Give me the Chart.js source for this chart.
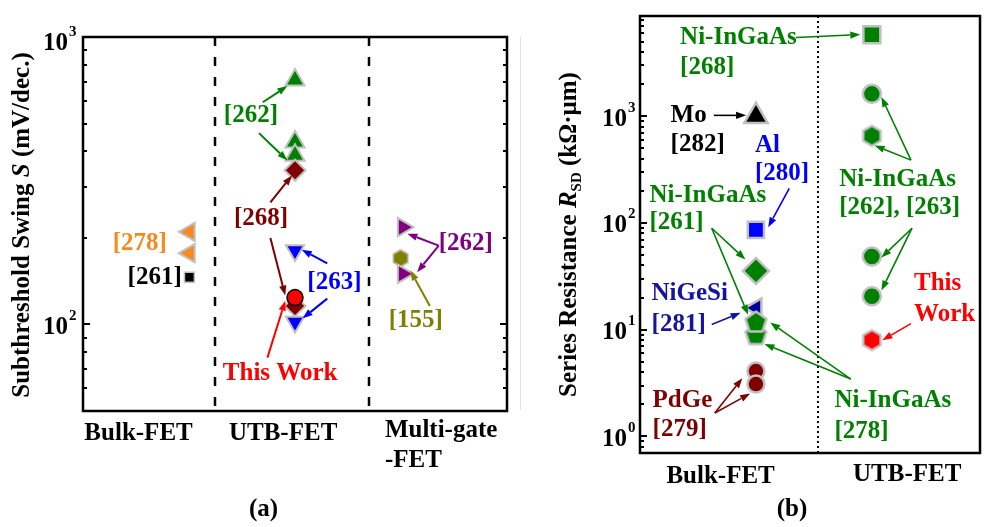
<!DOCTYPE html>
<html>
<head>
<meta charset="utf-8">
<script src="https://cdn.jsdelivr.net/npm/chart.js@4.4.1/dist/chart.umd.min.js"></script>
<style>
  html, body { margin: 0; padding: 0; background: #fff; overflow: hidden; width: 993px; height: 527px; }
  #wrapA { position: absolute; left: 0; top: 0; width: 520px; height: 527px; }
  #wrapB { position: absolute; left: 520px; top: 0; width: 476px; height: 527px; }
  #edge { position: absolute; left: 520px; top: 37px; width: 1px; height: 373px; background: #e4e4e4; }
</style>
</head>
<body>
<div id="wrapA"><canvas id="chartA" width="520" height="527"></canvas></div>
<div id="wrapB"><canvas id="chartB" width="476" height="527"></canvas></div>
<div id="edge"></div>
<script>
// ---------- data: (a) subthreshold swing S, mV/dec. ----------
const categoriesA = ['Bulk-FET', 'UTB-FET', 'Multi-gate\n-FET'];
const yTickLabelsA = [100, 1000];
const swingBulk278 = [210, 177];
const swingBulk261 = [146];
const swingUtb262 = [708, 431, 388];
const swingUtb268 = [344, 116];
const swingUtb263 = [181, 102];
const swingThisWork = [124];
const swingMg262 = [218, 150];
const swingMg155 = [170];

// ---------- data: (b) series resistance R_SD, kOhm.um ----------
const categoriesB = ['Bulk-FET', 'UTB-FET'];
const yTickLabelsB = [1, 10, 100, 1000];
const rsdBulkMo282 = [1000];
const rsdBulkAl280 = [86];
const rsdBulk261 = [35.5];
const rsdBulk281 = [16];
const rsdBulk278 = [8.9, 11.7];
const rsdBulk279 = [4.1, 3.1];
const rsdUtb268 = [5800];
const rsdUtbCircle = [1620, 48.6, 20.6];
const rsdUtbHex = [656];
const rsdThisWork = [8.0];

// ---------- styling ----------
const SERIF = '"Liberation Serif", "Times New Roman", serif';
const BOLD = 'bold 25px ' + SERIF;
const BOLD_IT = 'italic bold 25px ' + SERIF;
const SMALL = 'bold 15px ' + SERIF;
const GREEN = '#008000', DARKRED = '#800000', BLUE = '#0000ff', NAVY = '#1414a0',
      ORANGE = '#f7891f', PURPLE = '#800080', OLIVE = '#808000', RED = '#ff0000',
      BLACK = '#000000', EDGE = '#c0c0c0';

// horizontal slots on a 0..10 axis
const slotA = { bulk: 2.51, utb: 5.0, multi: 7.55 };
const slotB = { bulk: 3.41, utb: 6.82 };

const pts = (x, vals) => vals.map(v => ({ x, y: v }));

function polygonStyle(sides, r, fill, stroke, lw) {
  const size = Math.ceil(2 * (r + lw) + 2);
  const c = document.createElement('canvas');
  c.width = size; c.height = size;
  const g = c.getContext('2d');
  g.translate(size / 2, size / 2);
  g.beginPath();
  for (let i = 0; i < sides; i++) {
    const a = -Math.PI / 2 + i * 2 * Math.PI / sides;
    const px = r * Math.cos(a), py = r * Math.sin(a);
    if (i) g.lineTo(px, py); else g.moveTo(px, py);
  }
  g.closePath();
  g.fillStyle = fill; g.fill();
  g.lineJoin = 'round'; g.lineWidth = lw; g.strokeStyle = stroke; g.stroke();
  return c;
}

function series(data, style, color, radius, opts = {}) {
  return Object.assign({
    data, pointStyle: style, pointRadius: radius, pointHoverRadius: radius,
    pointRotation: 0, backgroundColor: color, borderColor: EDGE, borderWidth: 2,
    showLine: false
  }, opts);
}

function drawArrow(ctx, x1, y1, x2, y2, color, lw, hl, hw) {
  const ang = Math.atan2(y2 - y1, x2 - x1);
  const bx = x2 - hl * Math.cos(ang), by = y2 - hl * Math.sin(ang);
  ctx.strokeStyle = color; ctx.fillStyle = color; ctx.lineWidth = lw; ctx.setLineDash([]);
  ctx.beginPath(); ctx.moveTo(x1, y1); ctx.lineTo(bx, by); ctx.stroke();
  ctx.beginPath(); ctx.moveTo(x2, y2);
  ctx.lineTo(bx + hw * Math.sin(ang), by - hw * Math.cos(ang));
  ctx.lineTo(bx - hw * Math.sin(ang), by + hw * Math.cos(ang));
  ctx.closePath(); ctx.fill();
}

function drawRotatedRich(ctx, segs, bx, cy) {
  ctx.save();
  ctx.translate(bx, cy);
  ctx.rotate(-Math.PI / 2);
  ctx.textBaseline = 'alphabetic'; ctx.textAlign = 'left'; ctx.fillStyle = BLACK;
  let total = 0;
  segs.forEach(s => { ctx.font = s.font; total += ctx.measureText(s.t).width; });
  let x = -total / 2;
  segs.forEach(s => { ctx.font = s.font; ctx.fillText(s.t, x, s.dy || 0); x += ctx.measureText(s.t).width; });
  ctx.restore();
}

// frame, log ticks, labels, dividers, callouts
function decor(spec) {
  return {
    id: 'decor',
    beforeDatasetsDraw(chart) {
      const { ctx, chartArea: a, scales: { x } } = chart;
      ctx.save();
      ctx.strokeStyle = BLACK; ctx.lineWidth = spec.divider.width; ctx.setLineDash(spec.divider.dash);
      spec.divider.at.forEach(v => {
        const px = Math.round(x.getPixelForValue(v));
        ctx.beginPath(); ctx.moveTo(px, a.top); ctx.lineTo(px, a.bottom); ctx.stroke();
      });
      ctx.restore();
    },
    afterDatasetsDraw(chart) {
      const { ctx, chartArea: a, scales: { x, y } } = chart;
      ctx.save();
      // box
      ctx.strokeStyle = BLACK; ctx.lineWidth = 2.5; ctx.setLineDash([]);
      ctx.strokeRect(a.left, a.top, a.right - a.left, a.bottom - a.top);
      // inward log ticks
      ctx.lineWidth = 2;
      const lo = Math.floor(Math.log10(y.min)), hi = Math.ceil(Math.log10(y.max));
      for (let d = lo; d <= hi; d++) {
        for (let k = 1; k <= 9; k++) {
          const v = k * Math.pow(10, d);
          if (v < y.min * 0.999 || v > y.max * 1.001) continue;
          const py = Math.round(y.getPixelForValue(v));
          const len = k === 1 ? 7 : 4;
          ctx.beginPath(); ctx.moveTo(a.left, py); ctx.lineTo(a.left + len, py); ctx.stroke();
          if (spec.rightTicks) { ctx.beginPath(); ctx.moveTo(a.right, py); ctx.lineTo(a.right - len, py); ctx.stroke(); }
        }
      }
      // tick labels 10^n
      ctx.fillStyle = BLACK; ctx.textBaseline = 'middle';
      spec.tickLabels.forEach(v => {
        const e = Math.round(Math.log10(v));
        let py = y.getPixelForValue(v);
        if (py - a.top < 3) py += spec.topShift;
        const rx = a.left - spec.labelGap;
        ctx.font = BOLD; ctx.textAlign = 'right'; ctx.fillText('10', rx, py + 3);
        ctx.font = SMALL; ctx.textAlign = 'left'; ctx.fillText(String(e), rx + 1, py - 8.5);
      });
      // category labels
      ctx.font = BOLD; ctx.textBaseline = 'alphabetic';
      spec.categories.forEach((c, i) => {
        const lines = c.split('\n');
        const m = spec.catLayout[i];
        ctx.textAlign = m.align;
        lines.forEach((ln, j) => ctx.fillText(ln, x.getPixelForValue(m.x), a.bottom + m.dy + j * 30));
      });
      // panel letter
      ctx.textAlign = 'center';
      ctx.fillText(spec.panel.t, x.getPixelForValue(spec.panel.x), spec.panel.baseline);
      // callout arrows
      spec.arrows.forEach(ar => {
        drawArrow(ctx, x.getPixelForValue(ar.from[0]), y.getPixelForValue(ar.from[1]),
          x.getPixelForValue(ar.to[0]), y.getPixelForValue(ar.to[1]), ar.color, spec.arrowWidth, 10, 3.6);
      });
      // callout text
      ctx.textBaseline = 'middle'; ctx.font = BOLD;
      spec.notes.forEach(n => {
        ctx.fillStyle = n.color; ctx.textAlign = n.align || spec.noteAlign;
        ctx.fillText(n.t, x.getPixelForValue(n.x), y.getPixelForValue(n.y));
      });
      // axis title
      drawRotatedRich(ctx, spec.title.segs, spec.title.bx, (a.top + a.bottom) / 2 + spec.title.dy);
      ctx.restore();
    }
  };
}

function baseOptions(yMin, yMax, padding) {
  return {
    responsive: false, animation: false, events: [],
    layout: { padding },
    plugins: { legend: { display: false }, tooltip: { enabled: false } },
    scales: {
      x: { type: 'linear', min: 0, max: 10, display: false },
      y: { type: 'logarithmic', min: yMin, max: yMax, display: false }
    }
  };
}

// ---------- (a) ----------
const hexOlive = polygonStyle(6, 8.5, OLIVE, EDGE, 1.5);
new Chart(document.getElementById('chartA'), {
  type: 'scatter',
  data: {
    // first dataset is painted on top
    datasets: [
      series(pts(slotA.utb, swingThisWork), 'circle', RED, 8, { borderColor: BLACK, borderWidth: 1.5 }),
      series(pts(slotA.utb, swingUtb268), 'rectRot', DARKRED, 10.5),
      series(pts(slotA.utb, swingUtb262), 'triangle', GREEN, 11),
      series(pts(slotA.utb, swingUtb263), 'triangle', BLUE, 10.5, { pointRotation: 180 }),
      series(pts(slotA.bulk, swingBulk278), 'triangle', ORANGE, 10.5, { pointRotation: -90 }),
      series(pts(slotA.bulk, swingBulk261), 'rect', BLACK, 7, { borderWidth: 1.5 }),
      series(pts(slotA.multi, swingMg262), 'triangle', PURPLE, 10.5, { pointRotation: 90 }),
      series(pts(slotA.multi - 0.06, swingMg155), hexOlive, OLIVE, 8)
    ]
  },
  options: baseOptions(50, 1000, { left: 83, top: 37, right: 3, bottom: 116 }),
  plugins: [decor({
    divider: { at: [3.11, 6.75], dash: [9, 11], width: 2.5 },
    rightTicks: true,
    tickLabels: yTickLabelsA, labelGap: 15, topShift: 4,
    categories: categoriesA,
    catLayout: [{ x: 1.31, align: 'center', dy: 29 }, { x: 4.72, align: 'center', dy: 29 }, { x: 7.12, align: 'left', dy: 26 }],
    panel: { t: '(a)', x: 4.26, baseline: 516 },
    arrowWidth: 2,
    noteAlign: 'center',
    notes: [
      { t: '[278]', x: 1.34, y: 191, color: ORANGE },
      { t: '[261]', x: 1.69, y: 146, color: BLACK },
      { t: '[262]', x: 3.96, y: 535, color: GREEN },
      { t: '[268]', x: 4.20, y: 234, color: DARKRED },
      { t: 'This Work', x: 4.65, y: 67.5, color: RED },
      { t: '[263]', x: 5.93, y: 140, color: BLUE },
      { t: '[262]', x: 9.03, y: 191, color: PURPLE },
      { t: '[155]', x: 7.85, y: 103, color: OLIVE }
    ],
    arrows: [
      { from: [4.24, 593], to: [4.82, 675], color: GREEN },
      { from: [4.15, 463], to: [4.82, 372], color: GREEN },
      { from: [4.42, 266], to: [4.93, 330], color: DARKRED },
      { from: [4.42, 200], to: [4.77, 126], color: DARKRED },
      { from: [4.35, 76.7], to: [4.77, 121], color: RED },
      { from: [5.76, 163], to: [5.16, 182], color: BLUE },
      { from: [5.76, 123], to: [5.18, 105], color: BLUE },
      { from: [8.39, 188], to: [7.65, 207], color: PURPLE },
      { from: [8.39, 188], to: [7.88, 152], color: PURPLE },
      { from: [8.18, 116], to: [7.72, 154], color: OLIVE }
    ],
    title: {
      bx: 29, dy: 1,
      segs: [
        { t: 'Subthreshold Swing ', font: BOLD },
        { t: 'S', font: BOLD_IT },
        { t: ' (mV/dec.)', font: BOLD }
      ]
    }
  })]
});

// ---------- (b) ----------
const hexGreen = polygonStyle(6, 10, GREEN, EDGE, 2.5);
const hexRed = polygonStyle(6, 10, RED, EDGE, 2.5);
const pentGreen = polygonStyle(5, 11, GREEN, EDGE, 2.5);
new Chart(document.getElementById('chartB'), {
  type: 'scatter',
  data: {
    datasets: [
      series(pts(slotB.utb, rsdUtb268), 'rect', GREEN, 12, { borderWidth: 2.5 }),
      series(pts(slotB.utb, rsdUtbCircle), 'circle', GREEN, 9, { borderWidth: 2.5 }),
      series(pts(slotB.utb, rsdUtbHex), hexGreen, GREEN, 10),
      series(pts(slotB.utb, rsdThisWork), hexRed, RED, 10),
      series(pts(slotB.bulk, rsdBulkMo282), 'triangle', BLACK, 13.5, { borderWidth: 2.5 }),
      series(pts(slotB.bulk, rsdBulkAl280), 'rect', BLUE, 11.5, { borderWidth: 2.5 }),
      series(pts(slotB.bulk, rsdBulk261), 'rectRot', GREEN, 13, { borderWidth: 2.5 }),
      series(pts(slotB.bulk, rsdBulk278), pentGreen, GREEN, 11),
      series(pts(slotB.bulk, rsdBulk281), 'triangle', '#0000a0', 11, { pointRotation: -90, borderWidth: 2.5 }),
      series(pts(slotB.bulk, rsdBulk279), 'circle', DARKRED, 8.5, { borderWidth: 2.5 })
    ]
  },
  options: baseOptions(0.715, 8690, { left: 120, top: 5, right: 1, bottom: 74 }),
  plugins: [decor({
    divider: { at: [5.24], dash: [2, 3], width: 2 },
    rightTicks: false,
    tickLabels: yTickLabelsB, labelGap: 13, topShift: 0,
    categories: categoriesB,
    catLayout: [{ x: 2.37, align: 'center', dy: 30 }, { x: 7.86, align: 'center', dy: 28 }],
    panel: { t: '(b)', x: 4.47, baseline: 516 },
    arrowWidth: 1.6,
    noteAlign: 'left',
    notes: [
      { t: 'Ni-InGaAs', x: 1.18, y: 5460, color: GREEN },
      { t: '[268]', x: 1.18, y: 2850, color: GREEN },
      { t: 'Mo', x: 0.90, y: 1019, color: BLACK },
      { t: '[282]', x: 0.90, y: 543, color: BLACK },
      { t: 'Al', x: 3.38, y: 532, color: BLUE },
      { t: '[280]', x: 3.38, y: 289, color: BLUE },
      { t: 'Ni-InGaAs', x: 0.28, y: 179, color: GREEN },
      { t: '[261]', x: 0.28, y: 101, color: GREEN },
      { t: 'NiGeSi', x: 0.34, y: 21.9, color: NAVY },
      { t: '[281]', x: 0.34, y: 11.2, color: NAVY },
      { t: 'PdGe', x: 0.37, y: 2.17, color: DARKRED },
      { t: '[279]', x: 0.37, y: 1.16, color: DARKRED },
      { t: 'Ni-InGaAs', x: 5.86, y: 255, color: GREEN },
      { t: '[262], [263]', x: 5.86, y: 139, color: GREEN },
      { t: 'This', x: 8.06, y: 27.0, color: RED },
      { t: 'Work', x: 8.06, y: 13.8, color: RED },
      { t: 'Ni-InGaAs', x: 5.72, y: 2.17, color: GREEN },
      { t: '[278]', x: 5.72, y: 1.11, color: GREEN }
    ],
    arrows: [
      { from: [4.59, 5460], to: [6.48, 5820], color: GREEN },
      { from: [2.17, 1019], to: [3.12, 1019], color: BLACK },
      { from: [4.39, 211], to: [3.77, 91.2], color: BLUE },
      { from: [2.11, 89.3], to: [3.10, 45.6], color: GREEN },
      { from: [2.11, 89.3], to: [3.18, 13.8], color: GREEN },
      { from: [2.11, 11.2], to: [2.96, 14.4], color: NAVY },
      { from: [2.20, 1.66], to: [3.01, 3.52], color: DARKRED },
      { from: [2.20, 1.66], to: [3.24, 2.52], color: DARKRED },
      { from: [7.97, 388], to: [7.10, 1517], color: GREEN },
      { from: [7.97, 388], to: [6.90, 532], color: GREEN },
      { from: [8.00, 89.3], to: [7.10, 47.5], color: GREEN },
      { from: [8.00, 89.3], to: [7.10, 23.3], color: GREEN },
      { from: [7.97, 11.4], to: [7.13, 7.98], color: RED },
      { from: [6.20, 3.45], to: [3.83, 11.7], color: GREEN },
      { from: [6.20, 3.45], to: [3.66, 7.35], color: GREEN }
    ],
    title: {
      bx: 56, dy: 0,
      segs: [
        { t: 'Series Resistance ', font: BOLD },
        { t: 'R', font: BOLD_IT },
        { t: 'SD', font: SMALL, dy: 5 },
        { t: ' (k\u03A9\u00B7\u03BCm)', font: BOLD }
      ]
    }
  })]
});
</script>
</body>
</html>
